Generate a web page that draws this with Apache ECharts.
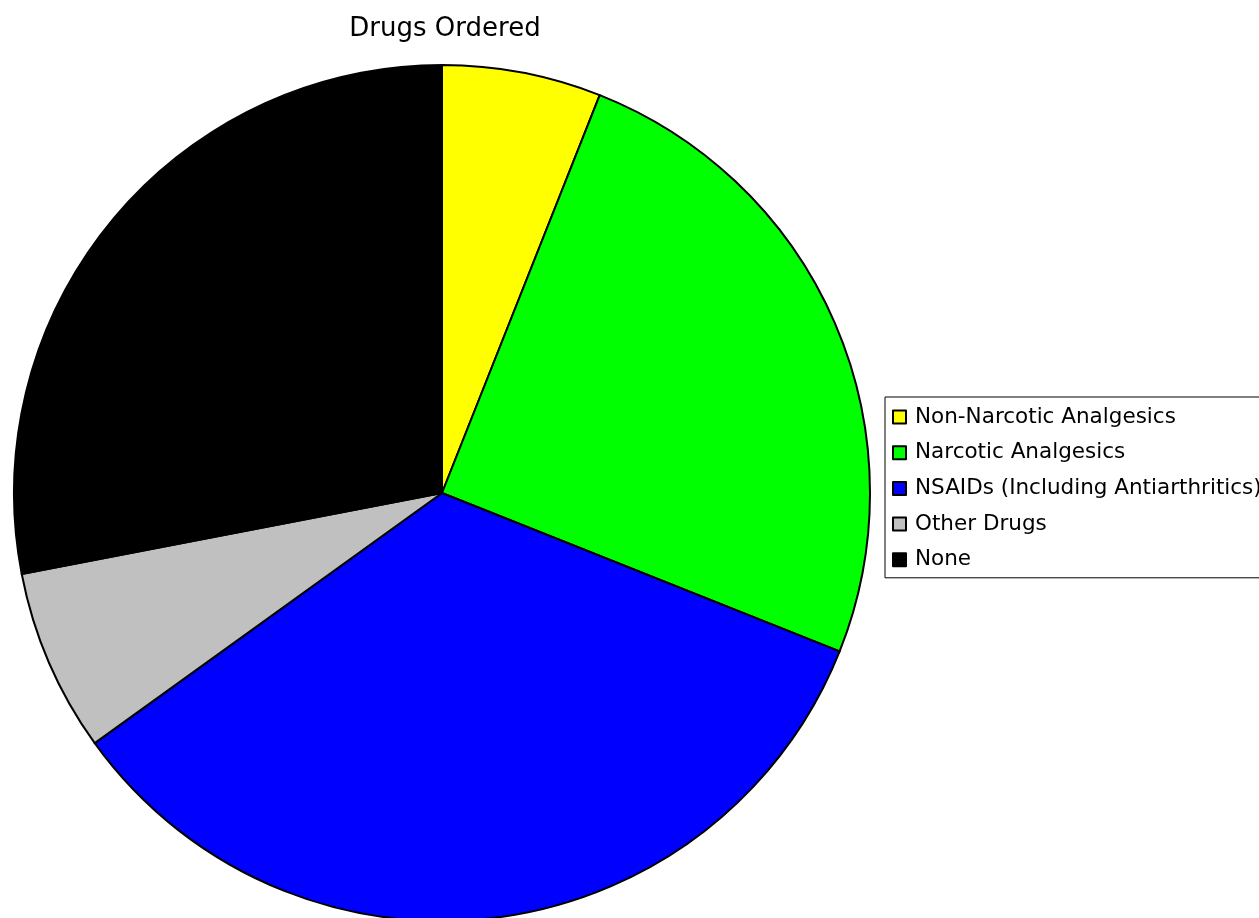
<!DOCTYPE html>
<html>
<head>
<meta charset="utf-8">
<script src="https://cdn.jsdelivr.net/npm/echarts@6/dist/echarts.min.js"></script>
<style>html,body{margin:0;padding:0;background:#fff}#c{width:1259px;height:918px}</style>
</head>
<body>
<div id="c"></div>
<script>
var titleText = 'Drugs Ordered';
var categories = ['Non-Narcotic Analgesics', 'Narcotic Analgesics', 'NSAIDs (Including Antiarthritics)', 'Other Drugs', 'None'];
var values = [6.0, 25.0, 34.0, 6.9, 28.0];
var colors = ['#ffff00', '#00ff00', '#0000ff', '#c0c0c0', '#000000'];

var chart = echarts.init(document.getElementById('c'), null, {renderer: 'canvas'});
chart.setOption({
  animation: false,
  backgroundColor: '#ffffff',
  title: {
    text: titleText,
    left: 445, textAlign: 'center',
    top: 16, padding: 0,
    textStyle: {fontFamily: 'DejaVu Sans', fontSize: 26, fontWeight: 'normal', color: '#000', lineHeight: 26}
  },
  legend: {
    orient: 'vertical',
    left: 885, top: 397,
    padding: [9, 10, 7, 7],
    itemWidth: 13, itemHeight: 13,
    itemGap: 13.7,
    borderColor: '#000', borderWidth: 1, borderRadius: 0,
    backgroundColor: '#fff',
    icon: 'rect',
    selectedMode: false,
    itemStyle: {borderColor: '#000', borderWidth: 2},
    textStyle: {fontFamily: 'DejaVu Sans', fontSize: 21.5, color: '#000', lineHeight: 22, padding: [0, 0, 0, 4]},
    data: categories
  },
  series: [{
    type: 'pie',
    center: [442, 493],
    radius: [0, 428],
    startAngle: 90,
    clockwise: true,
    label: {show: false},
    labelLine: {show: false},
    emphasis: {disabled: true},
    itemStyle: {borderColor: '#000', borderWidth: 2},
    data: categories.map(function (n, i) {
      return {name: n, value: values[i], itemStyle: {color: colors[i]}};
    })
  }]
});
</script>
</body>
</html>
